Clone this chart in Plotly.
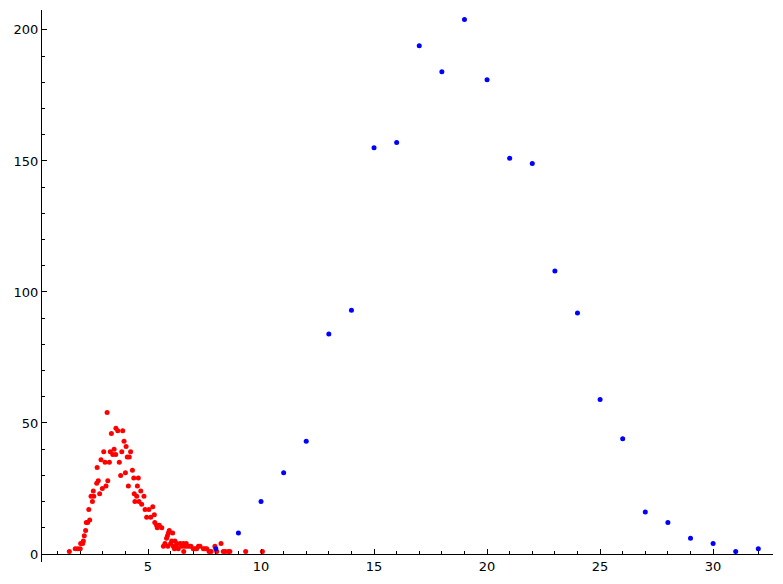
import plotly.graph_objects as go

# Blue series (integer x)
blue_x = list(range(8, 33))
blue_y = [2, 8, 20, 31, 43, 84, 93, 155, 157, 194, 184, 204, 181, 151, 149,
          108, 92, 59, 44, 16, 12, 6, 4, 1, 2]

# Red series
red_x = [1.52, 1.78, 1.89, 2.00, 2.02, 2.11, 2.14, 2.18, 2.24, 2.27, 2.33, 2.42, 2.38,
         2.54, 2.48, 2.60, 2.58, 2.73, 2.80, 2.75, 2.86, 2.98, 3.14, 3.22, 2.92, 3.10,
         3.29, 3.04, 3.33, 3.19, 3.38, 3.50, 3.44, 3.57, 3.58, 3.66, 3.88, 3.73, 3.79,
         3.84, 3.94, 4.00, 4.03, 4.08, 4.17, 4.23, 4.13, 4.31, 4.37, 4.39, 4.42, 4.53,
         4.57, 4.68, 4.50, 4.82, 4.60, 4.72, 4.87, 5.04, 5.21, 4.94, 5.12, 5.28, 5.30,
         5.38, 5.50, 5.61, 5.41, 5.94, 5.90, 6.09, 5.75, 5.68, 6.05, 6.19, 6.27, 6.42,
         6.49, 6.56, 6.61, 6.71, 6.58, 6.34, 6.17, 6.25, 6.12, 6.00, 5.88, 5.82, 5.86,
         6.69, 6.81, 6.90, 7.00, 7.08, 7.15, 7.23, 7.30, 7.45, 7.52, 7.60, 7.70, 7.79,
         7.96, 8.04, 8.23, 8.33, 8.41, 8.55, 8.62, 9.32, 10.06]
red_y = [1, 2, 2, 2, 4, 4, 5, 7, 9, 12, 12, 13, 17,
         20, 22, 22, 24, 27, 28, 33, 23, 25, 26, 28, 36, 35,
         35, 39, 39, 54, 46, 40, 38, 38, 48, 47, 47, 35, 30,
         39, 43, 31, 41, 37, 37, 39, 26, 32, 29, 23, 20, 26,
         29, 24, 22, 22, 20, 19, 17, 17, 18, 14, 14, 15, 12,
         11, 11, 10, 10, 9, 8, 8, 4, 3, 5, 5, 4, 4,
         3, 4, 3, 3, 1, 2, 2, 3, 3, 4, 3, 6, 7,
         4, 3, 3, 2, 2, 2, 3, 3, 2, 2, 2, 1, 1,
         3, 1, 4, 1, 1, 1, 1, 1, 1]

fig = go.Figure()
fig.add_trace(go.Scatter(x=red_x, y=red_y, mode="markers",
                         marker=dict(color="#ff0000", size=5, line=dict(width=0)),
                         showlegend=False))
fig.add_trace(go.Scatter(x=blue_x, y=blue_y, mode="markers",
                         marker=dict(color="#0000ff", size=5, line=dict(width=0)),
                         showlegend=False))

ymin, ymax = -3.05, 207.6
fig.update_layout(
    width=783, height=584,
    margin=dict(l=42, r=10, t=10, b=22),
    paper_bgcolor="white", plot_bgcolor="white",
    font=dict(family="DejaVu Sans", size=13, color="black"),
    xaxis=dict(range=[0.31, 32.65], tickmode="linear", tick0=0, dtick=5,
               showgrid=False, zeroline=False, showline=True, linecolor="black",
               linewidth=1, ticks="inside", ticklen=5, tickcolor="black",
               minor=dict(dtick=1, tick0=0, ticks="inside", ticklen=3,
                          tickcolor="black", showgrid=False),
               anchor="free", position=(0 - ymin) / (ymax - ymin)),
    yaxis=dict(range=[ymin, ymax], tickmode="linear", tick0=0, dtick=50,
               showgrid=False, zeroline=False, showline=True, linecolor="black",
               linewidth=1, ticks="inside", ticklen=5, tickcolor="black",
               minor=dict(dtick=10, tick0=0, ticks="inside", ticklen=3,
                          tickcolor="black", showgrid=False)),
)

fig.write_html("out.html", config={"displayModeBar": False},
               post_script="document.body.style.margin='0';document.body.style.overflow='hidden';")
